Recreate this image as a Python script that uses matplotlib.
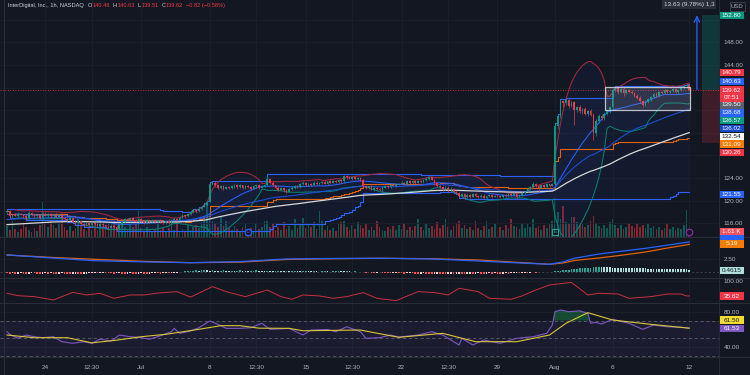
import numpy as np
import pandas as pd
import matplotlib.pyplot as plt
from matplotlib.patches import Rectangle
from matplotlib.lines import Line2D
from matplotlib.transforms import blended_transform_factory

plt.rcParams['font.family'] = ['Liberation Sans', 'DejaVu Sans']

W, H = 750, 375
BG = '#131722'
GRID = '#1c202b'
TXT = '#b2b5be'
UP = '#089981'
DN = '#f23645'
FS = 4.6

# ---------------- data (hourly bars, Jun 20 -> Aug 12) ----------------
first_open = 117.9
closes_by_day = [
    [118.2, 117.2, 117.6, 117.3, 117.7, 117.5, 117.2],   # Jun 20
    [116.9, 117.8, 117.5, 117.2, 117.4, 117.0, 117.6],   # Jun 21
    [117.3, 117.6, 117.2, 117.5, 117.1, 117.4, 116.9],   # Jun 24
    [116.8, 116.5, 116.9, 116.3, 116.0, 116.4, 115.9],   # Jun 25
    [115.6, 116.0, 115.7, 116.1, 115.8, 115.5, 115.9],   # Jun 26
    [115.6, 115.3, 115.1, 115.5, 115.4, 115.0, 115.7],   # Jun 27
    [116.2, 116.8, 116.5, 116.9, 116.6, 116.3, 116.7],   # Jun 28
    [116.4, 116.1, 116.5, 116.2, 116.6, 116.3, 116.5],   # Jul 1
    [116.2, 116.0, 116.4, 116.1, 116.5, 116.8, 116.6],   # Jul 2
    [117.0, 117.4, 117.2, 117.6],                        # Jul 3
    [117.9, 118.3, 118.1, 118.6, 118.9, 119.3, 119.8],   # Jul 5
    [122.9, 123.2, 122.7, 122.3, 122.6, 122.1, 122.4],   # Jul 8
    [122.2, 122.5, 122.8, 122.4, 122.7, 122.3, 122.6],   # Jul 9
    [122.4, 122.1, 122.5, 122.7, 122.3, 122.6, 122.8],   # Jul 10
    [123.8, 123.2, 122.7, 122.3, 121.9, 122.2, 121.8],   # Jul 11
    [121.6, 122.0, 122.3, 122.6, 122.4, 122.9, 123.1],   # Jul 12
    [122.7, 123.0, 122.8, 123.2, 122.9, 123.1, 123.3],   # Jul 15
    [123.0, 123.4, 123.2, 123.5, 123.3, 123.6, 123.4],   # Jul 16
    [124.3, 124.1, 123.9, 124.2, 123.8, 124.0, 123.7],   # Jul 17
    [122.6, 122.2, 122.5, 121.9, 122.3, 122.0, 121.8],   # Jul 18
    [122.3, 122.6, 122.4, 122.8, 122.6, 122.9, 123.0],   # Jul 19
    [123.2, 123.0, 123.4, 123.1, 123.5, 123.2, 123.4],   # Jul 22
    [123.3, 123.6, 123.9, 124.1, 123.7, 123.1, 122.6],   # Jul 23
    [122.4, 122.0, 122.3, 121.8, 122.1, 121.6, 121.4],   # Jul 24
    [120.8, 121.2, 120.6, 121.0, 120.7, 121.1, 120.9],   # Jul 25
    [120.6, 120.9, 120.5, 120.8, 121.0, 120.7, 120.9],   # Jul 26
    [120.8, 120.6, 121.0, 120.8, 121.2, 121.0, 121.3],   # Jul 29
    [120.7, 121.0, 121.3, 121.6, 122.0, 122.4, 123.0],   # Jul 30
    [122.6, 122.2, 122.7, 122.4, 122.9, 122.6, 123.0],   # Jul 31
    [133.2, 135.0, 137.6, 137.2, 137.8, 136.8, 137.4],   # Aug 1
    [136.0, 136.5, 135.8, 136.2, 135.4, 135.9, 135.2],   # Aug 2
    [132.0, 134.0, 135.0, 134.6, 135.4, 135.8, 136.5],   # Aug 5
    [139.6, 140.0, 139.2, 139.8, 139.0, 139.5, 139.3],   # Aug 6
    [139.0, 138.6, 138.2, 137.6, 137.0, 137.5, 138.0],   # Aug 7
    [138.4, 138.9, 138.6, 139.2, 139.0, 139.5, 139.3],   # Aug 8
    [139.4, 139.7, 139.2, 139.6, 139.9, 140.2, 140.46],  # Aug 9
    [139.62],                                            # Aug 12
]
# wick lengths in tenths of a dollar
wick_up_by_day = [
    [3, 2, 1, 2, 2, 1, 2], [2, 4, 2, 1, 2, 2, 3], [3, 2, 2, 1, 3, 2, 2],
    [2, 2, 3, 1, 2, 2, 1], [2, 3, 1, 2, 2, 3, 2], [2, 1, 2, 3, 1, 2, 2],
    [3, 2, 2, 1, 2, 2, 3], [2, 2, 3, 1, 2, 1, 2], [2, 1, 2, 3, 2, 2, 1],
    [2, 2, 1, 2], [2, 3, 1, 2, 2, 3, 2], [4, 2, 2, 3, 1, 2, 2],
    [2, 3, 1, 2, 2, 1, 2], [2, 2, 3, 1, 2, 2, 2], [9, 2, 2, 1, 2, 2, 1],
    [2, 3, 2, 1, 2, 2, 3], [2, 2, 1, 3, 2, 1, 2], [3, 1, 2, 2, 1, 2, 2],
    [3, 2, 2, 1, 2, 2, 1], [2, 2, 1, 3, 2, 1, 2], [2, 2, 1, 2, 3, 1, 2],
    [2, 1, 3, 2, 2, 1, 2], [2, 2, 3, 2, 1, 2, 2], [2, 1, 2, 2, 3, 1, 2],
    [2, 2, 1, 2, 1, 2, 2], [1, 2, 2, 1, 2, 2, 1], [2, 1, 2, 2, 1, 2, 2],
    [1, 2, 2, 1, 2, 2, 3], [2, 2, 1, 2, 2, 1, 2], [6, 3, 4, 2, 3, 2, 3],
    [3, 3, 4, 2, 3, 2, 3], [3, 4, 3, 3, 2, 3, 3], [2, 2, 3, 2, 3, 2, 2],
    [3, 2, 2, 3, 2, 3, 2], [2, 2, 3, 2, 2, 2, 3], [2, 2, 3, 2, 2, 2, 1],
    [1.7],
]
wick_dn_by_day = [
    [2, 3, 2, 1, 2, 1, 2], [3, 1, 2, 2, 1, 3, 2], [1, 2, 3, 2, 2, 1, 3],
    [2, 3, 1, 2, 3, 1, 2], [2, 1, 3, 2, 1, 2, 2], [3, 2, 2, 1, 2, 3, 1],
    [2, 2, 1, 3, 2, 1, 2], [1, 3, 2, 2, 1, 2, 2], [2, 2, 1, 2, 3, 1, 2],
    [1, 2, 2, 1], [2, 1, 3, 1, 2, 1, 2], [1, 2, 3, 2, 2, 3, 1],
    [2, 1, 2, 3, 1, 2, 2], [1, 3, 1, 2, 2, 1, 2], [2, 2, 1, 3, 2, 1, 2],
    [3, 1, 2, 2, 1, 2, 1], [2, 1, 3, 1, 2, 2, 1], [1, 2, 2, 1, 2, 1, 2],
    [2, 2, 1, 2, 2, 1, 2], [3, 2, 2, 1, 2, 2, 1], [2, 1, 2, 2, 1, 2, 1],
    [1, 2, 2, 1, 2, 2, 1], [2, 1, 2, 2, 1, 3, 2], [2, 3, 1, 2, 2, 2, 3],
    [3, 1, 3, 1, 2, 1, 2], [2, 1, 2, 2, 1, 2, 1], [1, 2, 1, 2, 1, 2, 1],
    [4, 1, 2, 2, 1, 2, 1], [2, 6.5, 2, 1, 2, 2, 1], [1, 5, 4, 6, 3, 5, 3],
    [26, 4, 3, 4, 3, 4, 3], [12, 5, 3, 4, 3, 2, 3], [5, 3, 3, 2, 4, 2, 3],
    [2, 3, 2, 3, 4, 2, 2], [3, 2, 2, 3, 2, 2, 2], [2, 2, 2, 3, 2, 2, 2],
    [1.1],
]
# volume in thousands
volume_by_day = [
    [3.2, 2.0, 5.0, 2.4, 1.6, 2.3, 4.0], [2.9, 2.1, 1.6, 2.6, 1.9, 3.5, 10.5],
    [3.8, 2.9, 4.8, 3.5, 2.6, 4.2, 6.5], [2.9, 2.2, 3.2, 1.9, 2.6, 5.5, 3.2],
    [2.4, 1.8, 2.9, 2.2, 4.5, 2.1, 5.5], [3.2, 2.6, 3.8, 2.4, 5.0, 2.9, 4.2],
    [3.5, 2.9, 2.4, 4.2, 3.0, 3.8, 8.0], [2.6, 1.9, 2.9, 2.2, 1.6, 2.4, 4.5],
    [2.2, 2.9, 1.9, 2.6, 3.8, 2.1, 5.5], [1.9, 2.4, 1.6, 3.5],
    [2.2, 2.9, 3.5, 2.6, 4.5, 5.0, 10.0], [7.0, 4.8, 3.8, 2.9, 6.5, 3.2, 5.0],
    [2.6, 2.1, 3.2, 2.4, 1.9, 2.9, 4.2], [2.2, 2.7, 1.9, 3.8, 2.4, 3.0, 4.8],
    [5.0, 2.9, 4.2, 2.2, 3.0, 2.1, 4.5], [2.4, 3.2, 2.2, 5.5, 2.7, 3.5, 5.8],
    [2.6, 3.5, 2.9, 4.5, 2.4, 8.0, 4.8], [2.1, 3.2, 2.2, 2.6, 1.9, 3.8, 4.5],
    [5.0, 2.9, 2.2, 3.5, 2.4, 4.5, 3.5], [2.6, 3.8, 2.1, 2.9, 2.2, 5.0, 3.0],
    [2.2, 1.9, 2.9, 2.4, 3.2, 2.1, 3.5], [2.4, 4.2, 2.2, 2.9, 2.1, 3.2, 5.4],
    [2.9, 2.2, 3.8, 2.6, 3.2, 2.4, 4.5], [2.6, 3.5, 5.5, 2.9, 2.2, 3.2, 4.2],
    [4.8, 2.7, 3.5, 2.4, 2.9, 2.2, 4.8], [2.6, 2.1, 3.2, 5.0, 2.4, 3.0, 3.8],
    [2.2, 2.9, 2.1, 3.5, 2.6, 5.5, 3.2], [2.9, 2.4, 3.8, 2.7, 4.2, 3.0, 5.5],
    [2.6, 3.2, 2.2, 3.5, 2.7, 4.0, 4.8], [12.0, 7.5, 5.5, 9.5, 4.5, 3.8, 6.0],
    [6.0, 4.5, 3.5, 4.0, 3.0, 3.5, 5.0], [6.5, 4.2, 3.2, 2.8, 3.6, 2.6, 4.5],
    [5.5, 3.5, 2.8, 3.6, 2.4, 3.0, 4.4], [3.4, 2.6, 4.0, 3.0, 3.5, 2.6, 3.8],
    [2.6, 3.4, 2.4, 2.9, 2.2, 2.8, 4.2], [2.4, 3.1, 2.1, 2.8, 2.4, 3.6, 8.2],
    [1.61],
]
macd_hist = [
    -0.25, -0.3, -0.2, -0.35, -0.3, -0.25, -0.3, -0.35, -0.3, -0.2, -0.25, -0.3, -0.35, -0.3,
    -0.25, -0.3, -0.2, -0.3, -0.35, -0.3, -0.25, -0.3, -0.35, -0.4, -0.35, -0.3, -0.35, -0.4,
    -0.35, -0.3, -0.25, -0.2, -0.15, -0.2, -0.15, -0.1, -0.15, -0.2, -0.25, -0.3, -0.25, -0.2,
    -0.3, -0.35, -0.3, -0.25, -0.3, -0.35, -0.3, -0.25, -0.3, -0.35, -0.3, -0.25, -0.2, -0.25,
    -0.3, -0.25, -0.2, -0.25, -0.2, -0.15, -0.1, -0.05, 0.05, 0.1, 0.15, 0.2, 0.25, 0.3,
    0.25, 0.3, 0.35, 0.3, 0.25, 0.3, 0.25, 0.2, 0.25, 0.3, 0.25, 0.2, 0.25, 0.2,
    0.25, 0.3, 0.25, 0.2, 0.15, 0.2, 0.25, 0.3, 0.25, 0.2, 0.15, 0.2, 0.15, 0.1,
    0.15, 0.2, 0.15, 0.1, 0.15, 0.1, 0.15, 0.2, 0.15, 0.1, 0.15, 0.2, 0.15, 0.1,
    0.15, 0.1, 0.05, 0.1, 0.15, 0.1, 0.05, 0.1, 0.15, 0.2, 0.15, 0.1, 0.15, 0.1,
    0.05, 0.1, 0.05, 0.0, -0.05, -0.1, -0.05, -0.1, -0.15, -0.1, -0.05, -0.1, -0.15, -0.2,
    -0.25, -0.2, -0.15, -0.2, -0.25, -0.3, -0.25, -0.2, -0.25, -0.3, -0.35, -0.3, -0.25, -0.3,
    -0.35, -0.4, -0.35, -0.3, -0.35, -0.4, -0.45, -0.4, -0.35, -0.4, -0.35, -0.3, -0.35, -0.4,
    -0.35, -0.3, -0.35, -0.3, -0.25, -0.3, -0.35, -0.3, -0.25, -0.3, -0.25, -0.3, -0.35, -0.3,
    -0.25, -0.3, -0.25, -0.2, -0.15, -0.2, -0.15, -0.1, -0.15, -0.1, -0.05, -0.1, -0.05, -0.05,
    -0.05, -0.03, -0.02, 0.0, 0.12, 0.2, 0.28, 0.34, 0.4, 0.46, 0.52, 0.58, 0.63, 0.68,
    0.72, 0.76, 0.8, 0.83, 0.86, 0.88, 0.9, 0.89, 0.87, 0.86, 0.85, 0.83, 0.82, 0.8,
    0.79, 0.77, 0.76, 0.75, 0.73, 0.72, 0.7, 0.69, 0.67, 0.66, 0.64, 0.62, 0.61, 0.59,
    0.58, 0.56, 0.55, 0.54, 0.53, 0.52, 0.51, 0.5, 0.49, 0.48, 0.47, 0.4615,
]
macd_idx = [0, 16, 32, 50, 67, 85, 102, 120, 137, 155, 172, 185, 198, 203, 207, 216, 225, 233, 241, 249]
macd_blue = [3.2, 2.65, 2.12, 1.9, 1.75, 1.95, 2.45, 2.55, 2.58, 2.45, 2.07, 1.75, 1.45, 1.9, 2.58, 3.38, 3.95, 4.45, 5.05, 5.65]
macd_orange = [3.2, 2.75, 2.39, 2.0, 1.75, 1.85, 2.35, 2.5, 2.58, 2.5, 2.26, 1.85, 1.45, 1.7, 2.16, 2.63, 3.2, 3.76, 4.5, 5.19]

osc_idx = [0, 4, 10, 17, 24, 29, 34, 39, 45, 50, 55, 62, 67, 75, 80, 87, 95, 100, 104, 108, 114, 119,
           124, 130, 135, 142, 150, 156, 161, 165, 172, 176, 184, 188, 193, 198, 206, 212, 216, 223,
           227, 235, 241, 246, 248, 249]
osc_val = [47, 37, 33, 19, 51, 40, 47, 26, 40, 40, 48, 54, 31, 75, 54, 33, 61, 33, 22, 40, 36, 26,
           33, 50, 26, 16, 54, 50, 40, 68, 54, 26, 22, 36, 61, 82, 93, 40, 47, 44,
           26, 33, 44, 44, 36, 35.62]

rsi_idx = [0, 1, 4, 7, 10, 13, 17, 20, 24, 28, 31, 34, 38, 41, 45, 49, 52, 56, 60, 61, 63, 67, 70, 74,
           77, 80, 85, 89, 93, 96, 103, 108, 111, 117, 120, 124, 129, 131, 136, 140, 143, 150, 155,
           159, 162, 165, 166, 170, 174, 180, 186, 192, 197, 199, 200, 202, 205, 209, 212, 213, 215,
           217, 221, 224, 227, 232, 236, 241, 246, 249]
rsi_val = [57.5, 54.6, 50.1, 53.8, 51.9, 50.8, 51.9, 46.3, 44.5, 46.3, 44.5, 49.3, 47, 53.8, 51.9, 50.8,
           49, 53, 57.5, 61.3, 55.7, 58.3, 62, 69.6, 65.8, 61.3, 61.3, 62, 67, 60.2, 61.3, 53.8, 59.4,
           60, 57.5, 63.1, 57.5, 50.1, 50.8, 53.8, 51.5, 53.8, 57.5, 53.8, 48.2, 42.6, 50.1, 42.6, 48.2,
           44.5, 50.1, 51.9, 55.7, 65, 80, 81.9, 80, 81, 78.2, 67, 68, 66.2, 71.5, 69, 67, 60.2, 65,
           63.1, 62.5, 61.53]
rsi_ma_idx = [0, 10, 22, 31, 40, 49, 58, 70, 78, 85, 92, 103, 108, 129, 143, 159, 171, 186, 198, 204,
              212, 221, 235, 249]
rsi_ma_val = [53.8, 50.8, 50.8, 45, 48, 51.9, 54.6, 60.2, 64.3, 64.3, 61.5, 61.3, 58.6, 59.4, 51.2,
              55.7, 46.3, 46.3, 53.8, 67, 78.9, 70.7, 65.8, 61.5]

tick_idx = [14, 31, 49, 74, 91, 109, 126, 144, 161, 179, 200, 221, 249]
tick_lab = ['24', '12:30', 'Jul', '8', '12:30', '15', '12:30', '22', '12:30', '29', 'Aug', '6', '12']

# drawings on the chart
box_x = [218.3, 249.3]
box_y = [136.0, 140.07]
position_x = [253.6, 260.0]
position_entry, position_target, position_stop = 139.62, 152.80, 130.26
ema50_seed, ema100_seed = 116.6, 115.7

# ---------------- derived series ----------------
closes = np.array(sum(closes_by_day, []))
opens = np.r_[first_open, closes[:-1]]
highs = np.maximum(opens, closes) + np.array(sum(wick_up_by_day, [])) / 10
lows = np.minimum(opens, closes) - np.array(sum(wick_dn_by_day, [])) / 10
volume = np.array(sum(volume_by_day, []))
hist = np.array(macd_hist)
idx = np.arange(len(closes))
assert len(highs) == len(lows) == len(volume) == len(hist) == len(closes) == 250

s = pd.Series(closes)
bb_mid = s.rolling(20, min_periods=4).mean()
bb_sd = s.rolling(20, min_periods=4).std(ddof=0)
bb_up, bb_lo = bb_mid + 2 * bb_sd, bb_mid - 2 * bb_sd
don_up = pd.Series(highs).rolling(56, min_periods=1).max()
don_lo = pd.Series(lows).rolling(56, min_periods=1).min()
don_mid = (don_up + don_lo) / 2


def ema(values, span, seed):
    a = 2 / (span + 1)
    out, e = [], seed
    for v in values:
        e = e + a * (v - e)
        out.append(e)
    return np.array(out)


ema50 = ema(closes, 50, ema50_seed)
ema100 = ema(closes, 100, ema100_seed)

# ---------------- figure ----------------
fig = plt.figure(figsize=(W / 100, H / 100), dpi=100, facecolor=BG)
XL = (-2.55, 259.85)


def right_ticks(a):
    a.yaxis.set_ticks_position('right')
    a.tick_params(axis='y', length=0, pad=3.5, labelsize=FS, colors=TXT,
                  labelright=True, labelleft=False)


def pane(y0, y1):
    a = fig.add_axes([0, 1 - y1 / H, 719 / W, (y1 - y0) / H])
    a.set_facecolor(BG)
    a.set_xlim(*XL)
    for sp in a.spines.values():
        sp.set_visible(False)
    right_ticks(a)
    a.set_xticks(tick_idx)
    a.tick_params(axis='x', length=0, labelbottom=False)
    a.grid(True, color=GRID, lw=0.6)
    a.set_axisbelow(True)
    return a


ax = pane(0, 237)
axv = ax.twinx()
axv.set_ylim(0, 72)
axv.axis('off')
axv.set_zorder(ax.get_zorder() - 1)
ax.patch.set_visible(False)
right_ticks(ax)
ax.set_ylim(113.56, 155.50)
shown = {116, 120, 124, 144, 148}
ax.set_yticks(np.arange(116, 156, 4))
ax.set_yticklabels([f'{v:.2f}' if v in shown else '' for v in np.arange(116, 156, 4)])

up_bar = closes >= opens
axv.bar(idx, volume, width=0.62, color=np.where(up_bar, UP, DN), alpha=0.5, linewidth=0)

# bands
ax.fill_between(idx, don_lo, don_up, color='#2962ff', alpha=0.05, lw=0, step='post')
ax.fill_between(idx, bb_lo, bb_up, color='#2962ff', alpha=0.05, lw=0)
ax.step(idx, don_up, where='post', color='#2962ff', lw=0.8, zorder=4)
ax.step(idx, don_lo, where='post', color='#2962ff', lw=0.8, zorder=4)
ax.step(idx, don_mid, where='post', color='#e0620d', lw=0.8, zorder=4)
ax.plot(idx, bb_up, color='#a62a3c', lw=0.75, zorder=4)
ax.plot(idx, bb_lo, color='#0b8070', lw=0.75, zorder=4)
ax.plot(idx, bb_mid, color='#2962ff', lw=0.75, zorder=4)
ax.plot(idx, ema50, color='#1d4fd8', lw=0.75, zorder=4)
ax.plot(idx, ema100, color='#d8d8d8', lw=0.9, zorder=4)

# candles
col = np.where(up_bar, UP, DN)
ax.vlines(idx, lows, highs, color=col, lw=0.5, zorder=5)
ax.bar(idx, np.maximum(np.abs(closes - opens), 0.06), bottom=np.minimum(opens, closes),
       width=0.62, color=col, linewidth=0, zorder=5)

# rectangle drawing
ax.add_patch(Rectangle((box_x[0], box_y[0]), box_x[1] - box_x[0], box_y[1] - box_y[0],
                       facecolor=(0.58, 0.6, 0.63, 0.2), edgecolor=(0.85, 0.86, 0.88, 0.85),
                       lw=0.9, zorder=6))
# current price line
ax.axhline(closes[-1], color=DN, lw=0.6, ls=(0, (1, 2)), zorder=3)
# long position tool
ax.add_patch(Rectangle((position_x[0], position_entry), position_x[1] - position_x[0],
                       position_target - position_entry, facecolor=UP, alpha=0.25, lw=0, zorder=2))
ax.add_patch(Rectangle((position_x[0], position_stop), position_x[1] - position_x[0],
                       position_entry - position_stop, facecolor=DN, alpha=0.2, lw=0, zorder=2))
ax.annotate('', xy=(251.8, position_target), xytext=(251.8, position_entry),
            arrowprops=dict(arrowstyle='->', color='#2962ff', lw=0.9, shrinkA=0, shrinkB=0),
            zorder=7)
ax.text(664 / 719, 1 - 4.5 / 237, '13.63 (9.78%) 1,3', transform=ax.transAxes, fontsize=FS,
        color='#d1d4dc', va='center', ha='left', clip_on=True, zorder=8,
        bbox=dict(boxstyle='square,pad=0.25', fc='#2a2e39', ec='none'))

# event markers
bt = blended_transform_factory(ax.transData, ax.transAxes)
ax.scatter([88], [0.022], transform=bt, s=22, facecolor=BG, edgecolor='#2962ff', lw=0.8, zorder=8)
ax.text(88, 0.022, 'D', transform=bt, fontsize=3.5, color='#2962ff', ha='center', va='center', zorder=9)
ax.scatter([200], [0.022], transform=bt, s=20, marker='s', facecolor=BG, edgecolor='#26a69a', lw=0.8, zorder=8)
ax.text(200, 0.022, 'E', transform=bt, fontsize=3.5, color='#26a69a', ha='center', va='center', zorder=9)
ax.scatter([249], [0.022], transform=bt, s=22, facecolor=BG, edgecolor='#9c27b0', lw=0.8, zorder=8)

# ---------------- pane 2 ----------------
ax2 = pane(237, 278)
ax2.set_ylim(-1.13, 6.58)
ax2.set_yticks([2.5])
ax2.set_yticklabels(['2.50'])
prev = np.r_[0, hist[:-1]]
hcol = np.where(hist >= 0, np.where(hist >= prev, '#26a69a', '#b2dfdb'),
                np.where(hist < prev, '#ff5252', '#ffcdd2'))
ax2.bar(idx, hist, width=0.62, color=hcol, linewidth=0)
ax2.axhline(0, color='#787b86', lw=0.5, ls=(0, (3, 3)), alpha=0.6, zorder=0)
ax2.plot(macd_idx, macd_orange, color='#e0620d', lw=0.9)
ax2.plot(macd_idx, macd_blue, color='#2962ff', lw=0.9)

# ---------------- pane 3 ----------------
ax3 = pane(278, 303)
ax3.set_ylim(6.2, 111.4)
ax3.set_yticks([100])
ax3.set_yticklabels(['100.00'])
ax3.plot(osc_idx, osc_val, color='#c9303f', lw=0.7)

# ---------------- pane 4 ----------------
ax4 = pane(303, 357)
ax4.set_ylim(29.1, 89.8)
ax4.set_yticks([40, 80])
ax4.set_yticklabels(['40.00', '80.00'])
ax4.axhspan(30, 70, color='#7e57c2', alpha=0.09, lw=0)
for lv in (30, 50, 70):
    ax4.axhline(lv, color='#787b86', lw=0.6, ls=(0, (4, 3)), alpha=0.7)
rsi_i = np.array(rsi_idx)
rsi_v = np.array(rsi_val)
ax4.fill_between(rsi_i, 70, rsi_v, where=rsi_v > 70, interpolate=True, color='#1b8a4a', alpha=0.45, lw=0)
ax4.plot(rsi_idx, rsi_val, color='#7e57c2', lw=0.8)
ax4.plot(rsi_ma_idx, rsi_ma_val, color='#d8c53a', lw=0.8)
ax4.set_xticklabels(tick_lab)
ax4.tick_params(axis='x', labelbottom=True, labelsize=FS, colors=TXT, pad=6)

# separators
for yp in (237, 278, 303, 357):
    fig.add_artist(Line2D([0, 1], [1 - yp / H] * 2, color='#2a2e39', lw=0.8))
fig.add_artist(Line2D([719 / W] * 2, [0, 1], color='#2a2e39', lw=0.6))
fig.add_artist(Line2D([4 / W] * 2, [0, 1], color='#2a2e39', lw=0.8))

# ---------------- right axis tags ----------------
axis_tags = [
    ('152.80', 15.5, '#089981', 'white'),
    ('140.79', 72.7, '#f23645', 'white'),
    ('140.63', 81.7, '#2962ff', 'white'),
    ('139.50', 105.0, '#5d606b', 'white'),
    ('138.68', 113.0, '#2962ff', 'white'),
    ('136.57', 120.7, '#089981', 'white'),
    ('136.02', 128.3, '#1848cc', 'white'),
    ('132.54', 136.7, '#ffffff', '#131722'),
    ('131.09', 144.0, '#f57c00', 'white'),
    ('130.26', 152.3, '#f23645', 'white'),
    ('121.55', 194.5, '#2962ff', 'white'),
    ('', 238.5, '#2962ff', 'white'),
    ('1.61 K', 231.7, '#f7525f', 'white'),
    ('5.19', 244.0, '#f57c00', 'white'),
    ('0.4615', 270.7, '#b2dfdb', '#131722'),
    ('35.62', 296.0, '#f23645', 'white'),
    ('61.50', 320.0, '#f0dc32', '#131722'),
    ('61.53', 328.3, '#7e57c2', 'white'),
]


def tag(text, ypx, bg, fg, h=7.4):
    fig.patches.append(Rectangle((719.5 / W, 1 - (ypx + h / 2) / H), 24 / W, h / H,
                                 transform=fig.transFigure, facecolor=bg, lw=0, zorder=5))
    fig.text(731.5 / W, 1 - ypx / H, text, color=fg, fontsize=FS, ha='center', va='center', zorder=6)


for t, yp, bg, fg in axis_tags:
    tag(t, yp, bg, fg)
# last price tag with countdown
fig.patches.append(Rectangle((719.5 / W, 1 - 101.5 / H), 24 / W, 15.5 / H, transform=fig.transFigure,
                             facecolor=DN, lw=0, zorder=5))
fig.text(731.5 / W, 1 - 90 / H, f'{closes[-1]:.2f}', color='white', fontsize=FS, ha='center', va='center', zorder=6)
fig.text(731.5 / W, 1 - 97.3 / H, '07:51', color='white', fontsize=FS, ha='center', va='center', zorder=6)
# currency box
fig.patches.append(Rectangle((729.5 / W, 1 - 11 / H), 15 / W, 9.5 / H, transform=fig.transFigure,
                             facecolor=BG, edgecolor='#434651', lw=0.6, zorder=5))
fig.text(737 / W, 1 - 6.2 / H, 'USD', color=TXT, fontsize=4.2, ha='center', va='center', zorder=6)

# ---------------- header ----------------
renderer = fig.canvas.get_renderer()
header = [('InterDigital, Inc., 1h, NASDAQ', '#d1d4dc', 4), ('O', '#d1d4dc', 0.3), ('140.46', DN, 3),
          ('H', '#d1d4dc', 0.3), ('140.63', DN, 3), ('L', '#d1d4dc', 0.3), ('139.51', DN, 3),
          ('C', '#d1d4dc', 0.3), ('139.62', DN, 3), ('\u22120.82 (\u22120.58%)', DN, 0)]
xp = 8
for txt, c, gap in header:
    t = fig.text(xp / W, 1 - 5.5 / H, txt, color=c, fontsize=4.1, ha='left', va='center')
    xp += t.get_window_extent(renderer).width + gap

fig.savefig('out.png', dpi=100, facecolor=BG)
